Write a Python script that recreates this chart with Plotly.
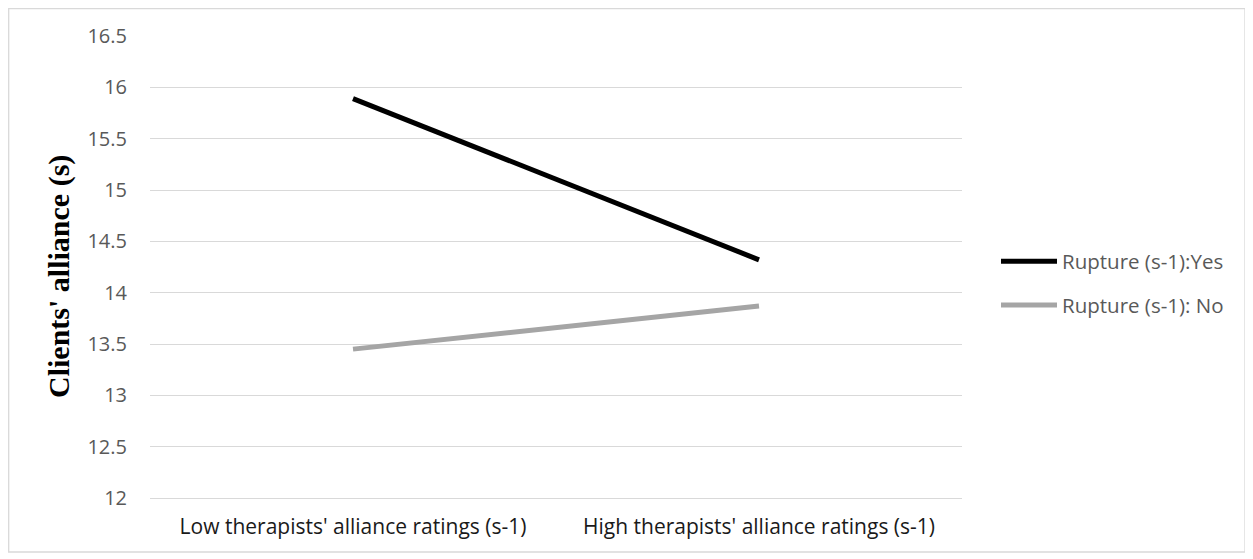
import plotly.graph_objects as go

categories = ["Low therapists' alliance ratings (s-1)", "High therapists' alliance ratings (s-1)"]
series_names = ["Rupture (s-1):Yes", "Rupture (s-1): No"]
yes_values = [15.89, 14.32]
no_values = [13.45, 13.87]
y_ticks = [12, 12.5, 13, 13.5, 14, 14.5, 15, 15.5, 16, 16.5]
y_tick_labels = ["12", "12.5", "13", "13.5", "14", "14.5", "15", "15.5", "16", "16.5"]

# page body has an 8px margin; work in figure coordinates (page - 8)
OFF = 8
W, H = 1253 - OFF, 559 - OFF
L, T = 150 - OFF, 36 - OFF
pw, ph = 812, 462
R = W - L - pw
B = H - T - ph


def px(xpage):
    return (xpage - OFF - L) / pw


def py(ypage):
    return (T + ph - (ypage - OFF)) / ph


sans = "Open Sans, Liberation Sans, sans-serif"
tick_font = dict(family=sans, size=20, color="#595959")

fig = go.Figure()
fig.add_trace(go.Scatter(x=categories, y=yes_values, mode="lines", name=series_names[0],
                         line=dict(color="#000000", width=5), legendgroup="a"))
fig.add_trace(go.Scatter(x=categories, y=no_values, mode="lines", name=series_names[1],
                         line=dict(color="#a5a5a5", width=5), legendgroup="b"))

fig.update_layout(
    width=W, height=H,
    margin=dict(l=L, r=R, t=T, b=B, autoexpand=False),
    paper_bgcolor="white", plot_bgcolor="white",
    showlegend=True,
    legend=dict(x=px(996), y=py(283.5), xanchor="left", yanchor="middle",
                font=dict(family=sans, size=20.5, color="#595959"), itemwidth=56,
                tracegroupgap=14, bgcolor="rgba(0,0,0,0)", itemclick=False),
    xaxis=dict(type="category", showgrid=False, showline=True, linecolor="#d9d9d9", linewidth=1.3,
               zeroline=False,
               ticks="outside", ticklen=10, tickcolor="rgba(0,0,0,0)",
               tickfont=dict(family=sans, size=21, color="#1a1a1a"),
               range=[-0.5, 1.5], fixedrange=True),
    yaxis=dict(range=[12, 16.5], tickvals=y_ticks, ticktext=y_tick_labels,
               showgrid=True, gridcolor="#d9d9d9", gridwidth=1.3, zeroline=False, showline=False,
               ticks="outside", ticklen=18, tickcolor="rgba(0,0,0,0)", tickfont=tick_font,
               fixedrange=True),
    annotations=[dict(text="<b>Clients' alliance (s)</b>", textangle=-90,
                      xref="paper", yref="paper", x=px(59), y=py(277),
                      xanchor="center", yanchor="middle", showarrow=False,
                      font=dict(family="Liberation Serif, Times New Roman, serif", size=30, color="#000000"))],
    shapes=[dict(type="rect", xref="paper", yref="paper",
                 x0=px(8.7), x1=px(1245), y0=py(552), y1=py(8.7),
                 line=dict(color="#d9d9d9", width=1.3), fillcolor="rgba(0,0,0,0)", layer="below")],
)

fig.write_html("out.html")
